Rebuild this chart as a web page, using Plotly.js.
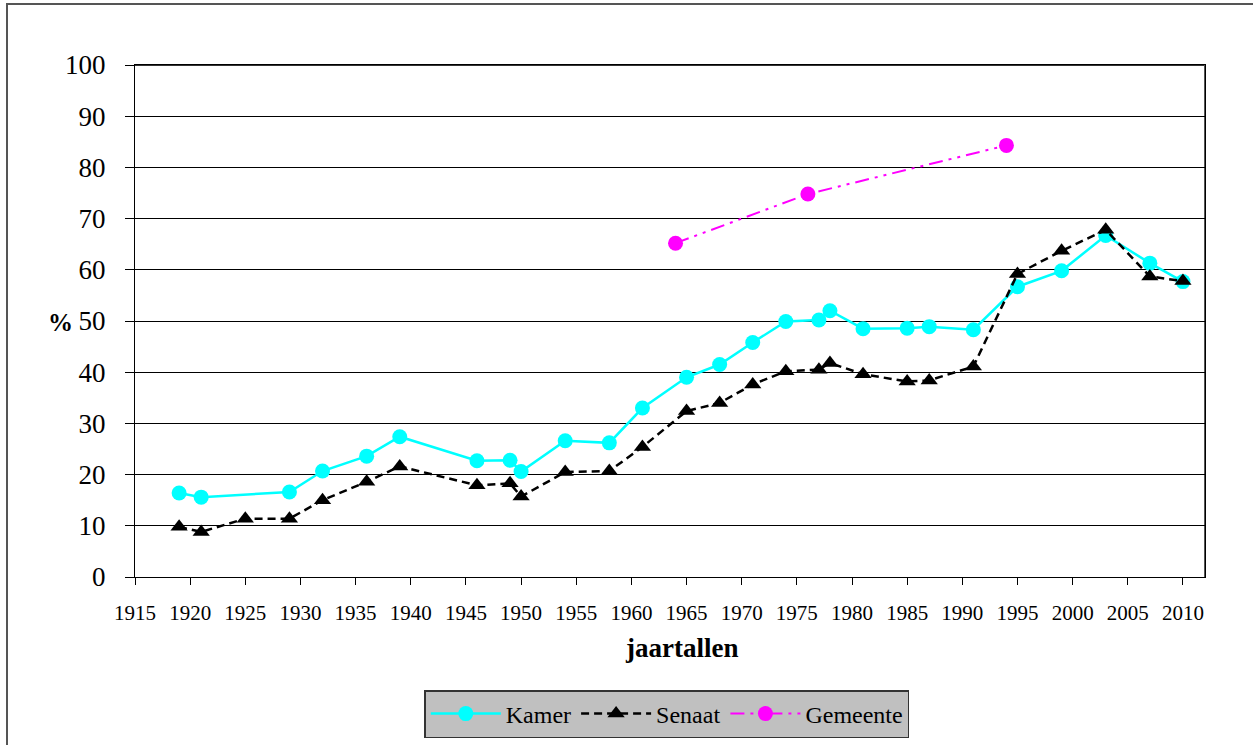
<!DOCTYPE html>
<html>
<head>
<meta charset="utf-8">
<script src="https://cdn.plot.ly/plotly-3.0.1.min.js"></script>
<style>html,body{margin:0;padding:0;background:#fff;}</style>
</head>
<body>
<div id="chart" style="width:1253px;height:745px;"></div>
<script>
// Data
const kamerYears = [1919, 1921, 1929, 1932, 1936, 1939, 1946, 1949, 1950, 1954, 1958, 1961, 1965, 1968, 1971, 1974, 1977, 1978, 1981, 1985, 1987, 1991, 1995, 1999, 2003, 2007, 2010];
const kamerValues = [16.4, 15.6, 16.6, 20.7, 23.6, 27.4, 22.7, 22.8, 20.6, 26.6, 26.2, 33.0, 39.0, 41.5, 45.8, 49.9, 50.2, 52.0, 48.5, 48.6, 48.9, 48.3, 56.7, 59.8, 66.7, 61.3, 57.7];

const senaatYears = [1919, 1921, 1925, 1929, 1932, 1936, 1939, 1946, 1949, 1950, 1954, 1958, 1961, 1965, 1968, 1971, 1974, 1977, 1978, 1981, 1985, 1987, 1991, 1995, 1999, 2003, 2007, 2010];
const senaatValues = [9.8, 8.8, 11.4, 11.4, 15.0, 18.6, 21.6, 17.9, 18.3, 15.7, 20.5, 20.7, 25.4, 32.4, 34.0, 37.6, 40.2, 40.5, 41.8, 39.6, 38.2, 38.4, 41.1, 59.2, 63.7, 67.8, 58.7, 57.8];

const gemeenteYears = [1964, 1976, 1994];
const gemeenteValues = [65.2, 74.8, 84.3];

const seriesNames = ["Kamer", "Senaat", "Gemeente"];
const xTitle = "jaartallen";
const yTitle = "%";

const serif = "Liberation Serif";

const traces = [
  {
    x: kamerYears, y: kamerValues, name: seriesNames[0],
    type: "scatter", mode: "lines+markers",
    line: {color: "#00FFFF", width: 2.5},
    marker: {symbol: "circle", color: "#00FFFF", size: 15}
  },
  {
    x: senaatYears, y: senaatValues, name: seriesNames[1],
    type: "scatter", mode: "lines+markers",
    line: {color: "#000000", width: 2.5, dash: "8px,5px"},
    marker: {symbol: "triangle-up", color: "#000000", size: 15}
  },
  {
    x: gemeenteYears, y: gemeenteValues, name: seriesNames[2],
    type: "scatter", mode: "lines+markers",
    line: {color: "#FF00FF", width: 2, dash: "14px,6px,3px,6px,3px,6px"},
    marker: {symbol: "circle", color: "#FF00FF", size: 15}
  }
];

const layout = {
  width: 1253, height: 745,
  margin: {l: 135, r: 48, t: 65, b: 168},
  paper_bgcolor: "#ffffff", plot_bgcolor: "#ffffff",
  font: {family: serif, color: "#000"},
  showlegend: true,
  xaxis: {
    range: [1915, 2012], tick0: 1915, dtick: 5, tickmode: "linear",
    showgrid: false, zeroline: false,
    showline: true, linecolor: "#000", linewidth: 1, mirror: true,
    ticks: "outside", ticklen: 7, tickcolor: "#000",
    ticklabelstandoff: 10,
    tickfont: {family: serif, size: 21, color: "#000"}
  },
  yaxis: {
    range: [0, 100], tick0: 0, dtick: 10, tickmode: "linear",
    showgrid: true, gridcolor: "#000", gridwidth: 1, zeroline: false,
    showline: true, linecolor: "#000", linewidth: 1, mirror: true,
    ticks: "outside", ticklen: 9, tickcolor: "#000",
    ticklabelstandoff: 14,
    tickfont: {family: serif, size: 27, color: "#000"}
  },
  legend: {
    orientation: "h", x: 0.497, xanchor: "center",
    yref: "container", y: (745 - 714) / 745, yanchor: "middle",
    bgcolor: "#c0c0c0", bordercolor: "#333", borderwidth: 1.5,
    font: {family: serif, size: 24, color: "#000"},
    itemwidth: 70, tracegroupgap: 0
  },
  annotations: [
    {text: "<b>" + xTitle + "</b>", xref: "paper", yref: "paper",
     x: (681 - 135) / 1070, y: (577 - 648) / 512, xanchor: "center", yanchor: "middle",
     showarrow: false, font: {family: serif, size: 27, color: "#000"}},
    {text: "<b>" + yTitle + "</b>", xref: "paper", yref: "paper",
     x: (60 - 135) / 1070, y: (577 - 322) / 512, xanchor: "center", yanchor: "middle",
     showarrow: false, font: {family: serif, size: 25, color: "#000"}}
  ],
  shapes: [
    {type: "rect", xref: "paper", yref: "paper",
     x0: (7 - 135) / 1070, x1: (1262 - 135) / 1070,
     y0: (577 - 760) / 512, y1: (577 - 4) / 512,
     line: {color: "#555", width: 2}, fillcolor: "rgba(0,0,0,0)", layer: "below"},
    {type: "line", xref: "paper", yref: "paper", x0: 0, x1: 1, y0: 1, y1: 1,
     line: {color: "#333", width: 2}, layer: "below"},
    {type: "line", xref: "paper", yref: "paper", x0: 1, x1: 1, y0: 0, y1: 1,
     line: {color: "#555", width: 2}, layer: "below"}
  ]
};

Plotly.newPlot("chart", traces, layout, {displayModeBar: false, staticPlot: true});
</script>
</body>
</html>
